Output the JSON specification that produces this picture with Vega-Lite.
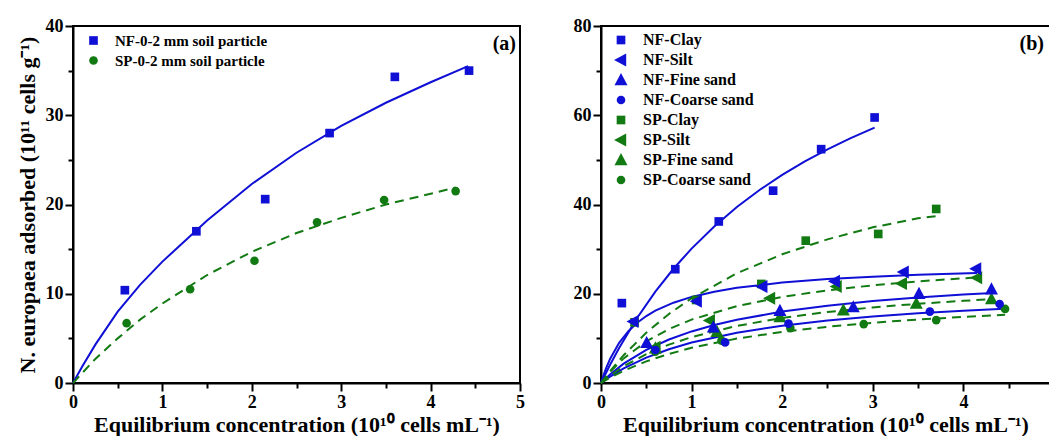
{
  "$schema": "https://vega.github.io/schema/vega-lite/v6.json",
  "background": "white",
  "padding": {"left": 15, "top": 16, "right": 0, "bottom": 0},
  "spacing": 81,
  "bounds": "flush",
  "config": {
    "view": {"stroke": "black", "strokeWidth": 2},
    "font": "Liberation Serif",
    "axis": {"domainColor": "black", "domainWidth": 2, "tickColor": "black", "tickWidth": 2, "labelFont": "Liberation Serif", "labelFontWeight": "bold", "labelFontSize": 18, "labelColor": "black", "titleFont": "Liberation Serif", "titleFontWeight": "bold", "titleFontSize": 22, "titleColor": "black", "grid": false, "labelOverlap": false, "labelFlush": false},
    "legend": {"labelFont": "Liberation Serif", "labelFontWeight": "bold", "labelFontSize": 16, "labelColor": "black", "labelLimit": 400, "symbolSize": 75, "symbolStrokeWidth": 0, "rowPadding": 4, "labelOffset": 14, "padding": 0, "symbolOpacity": 1},
    "title": {"font": "Liberation Serif", "fontWeight": "bold", "fontSize": 20, "color": "black", "anchor": "end", "frame": "group"}
  },
  "resolve": {"scale": {"color": "independent", "shape": "independent"}, "legend": {"color": "independent", "shape": "independent"}},
  "datasets": {
    "a_pts": [
      {"s": "NF-0-2 mm soil particle", "x": 0.58, "y": 10.4},
      {"s": "NF-0-2 mm soil particle", "x": 1.38, "y": 17.0},
      {"s": "NF-0-2 mm soil particle", "x": 2.15, "y": 20.6},
      {"s": "NF-0-2 mm soil particle", "x": 2.87, "y": 28.0},
      {"s": "NF-0-2 mm soil particle", "x": 3.6, "y": 34.3},
      {"s": "NF-0-2 mm soil particle", "x": 4.43, "y": 35.0},
      {"s": "SP-0-2 mm soil particle", "x": 0.6, "y": 6.7},
      {"s": "SP-0-2 mm soil particle", "x": 1.31, "y": 10.5},
      {"s": "SP-0-2 mm soil particle", "x": 2.03, "y": 13.7},
      {"s": "SP-0-2 mm soil particle", "x": 2.73, "y": 18.0},
      {"s": "SP-0-2 mm soil particle", "x": 3.48, "y": 20.5},
      {"s": "SP-0-2 mm soil particle", "x": 4.28, "y": 21.5}
    ],
    "a_fit": [
      {"s": "NF", "x": 0, "y": 0}, {"s": "NF", "x": 0.1, "y": 1.8}, {"s": "NF", "x": 0.25, "y": 4.3}, {"s": "NF", "x": 0.5, "y": 8.0}, {"s": "NF", "x": 0.75, "y": 11.0}, {"s": "NF", "x": 1.0, "y": 13.6}, {"s": "NF", "x": 1.5, "y": 18.2}, {"s": "NF", "x": 2.0, "y": 22.3}, {"s": "NF", "x": 2.5, "y": 25.8}, {"s": "NF", "x": 3.0, "y": 28.8}, {"s": "NF", "x": 3.5, "y": 31.4}, {"s": "NF", "x": 4.0, "y": 33.7}, {"s": "NF", "x": 4.42, "y": 35.5},
      {"s": "SP", "x": 0, "y": 0}, {"s": "SP", "x": 0.25, "y": 2.7}, {"s": "SP", "x": 0.5, "y": 5.0}, {"s": "SP", "x": 0.75, "y": 7.1}, {"s": "SP", "x": 1.0, "y": 8.9}, {"s": "SP", "x": 1.5, "y": 12.1}, {"s": "SP", "x": 2.0, "y": 14.7}, {"s": "SP", "x": 2.5, "y": 16.8}, {"s": "SP", "x": 3.0, "y": 18.5}, {"s": "SP", "x": 3.5, "y": 20.0}, {"s": "SP", "x": 4.0, "y": 21.2}, {"s": "SP", "x": 4.28, "y": 21.9}
    ],
    "b_pts": [
      {"s": "NF-Clay", "x": 0.23, "y": 17.9}, {"s": "NF-Clay", "x": 0.82, "y": 25.5}, {"s": "NF-Clay", "x": 1.3, "y": 36.2}, {"s": "NF-Clay", "x": 1.9, "y": 43.1}, {"s": "NF-Clay", "x": 2.43, "y": 52.4}, {"s": "NF-Clay", "x": 3.02, "y": 59.5},
      {"s": "SP-Clay", "x": 0.37, "y": 13.6}, {"s": "SP-Clay", "x": 1.05, "y": 18.6}, {"s": "SP-Clay", "x": 1.77, "y": 22.2}, {"s": "SP-Clay", "x": 2.26, "y": 31.9}, {"s": "SP-Clay", "x": 3.06, "y": 33.4}, {"s": "SP-Clay", "x": 3.7, "y": 39.0},
      {"s": "SP-Silt", "x": 0.6, "y": 8.0}, {"s": "SP-Silt", "x": 1.2, "y": 14.0}, {"s": "SP-Silt", "x": 1.865, "y": 19.0}, {"s": "SP-Silt", "x": 2.6, "y": 21.6}, {"s": "SP-Silt", "x": 3.32, "y": 22.3}, {"s": "SP-Silt", "x": 4.15, "y": 23.6},
      {"s": "SP-Fine sand", "x": 0.6, "y": 7.8}, {"s": "SP-Fine sand", "x": 1.28, "y": 11.5}, {"s": "SP-Fine sand", "x": 1.975, "y": 14.8}, {"s": "SP-Fine sand", "x": 2.675, "y": 16.3}, {"s": "SP-Fine sand", "x": 3.48, "y": 17.8}, {"s": "SP-Fine sand", "x": 4.31, "y": 18.8},
      {"s": "SP-Coarse sand", "x": 0.6, "y": 7.0}, {"s": "SP-Coarse sand", "x": 1.33, "y": 9.5}, {"s": "SP-Coarse sand", "x": 2.09, "y": 12.3}, {"s": "SP-Coarse sand", "x": 2.9, "y": 13.2}, {"s": "SP-Coarse sand", "x": 3.7, "y": 14.1}, {"s": "SP-Coarse sand", "x": 4.46, "y": 16.6},
      {"s": "NF-Silt", "x": 0.357, "y": 13.8}, {"s": "NF-Silt", "x": 1.056, "y": 18.3}, {"s": "NF-Silt", "x": 1.78, "y": 21.6}, {"s": "NF-Silt", "x": 2.58, "y": 22.8}, {"s": "NF-Silt", "x": 3.34, "y": 24.9}, {"s": "NF-Silt", "x": 4.14, "y": 25.6},
      {"s": "NF-Fine sand", "x": 0.504, "y": 9.0}, {"s": "NF-Fine sand", "x": 1.24, "y": 12.5}, {"s": "NF-Fine sand", "x": 1.975, "y": 16.2}, {"s": "NF-Fine sand", "x": 2.785, "y": 17.0}, {"s": "NF-Fine sand", "x": 3.51, "y": 20.0}, {"s": "NF-Fine sand", "x": 4.31, "y": 21.0},
      {"s": "NF-Coarse sand", "x": 0.6, "y": 7.4}, {"s": "NF-Coarse sand", "x": 1.37, "y": 9.1}, {"s": "NF-Coarse sand", "x": 2.07, "y": 13.3}, {"s": "NF-Coarse sand", "x": 3.63, "y": 16.0}, {"s": "NF-Coarse sand", "x": 4.4, "y": 17.7}
    ],
    "b_fit": [
      {"s": "NF-Clay", "x": 0, "y": 0}, {"s": "NF-Clay", "x": 0.1, "y": 4.09}, {"s": "NF-Clay", "x": 0.2, "y": 7.86}, {"s": "NF-Clay", "x": 0.4, "y": 14.61}, {"s": "NF-Clay", "x": 0.6, "y": 20.47}, {"s": "NF-Clay", "x": 0.8, "y": 25.6}, {"s": "NF-Clay", "x": 1.0, "y": 30.12}, {"s": "NF-Clay", "x": 1.25, "y": 35.09}, {"s": "NF-Clay", "x": 1.5, "y": 39.43}, {"s": "NF-Clay", "x": 1.75, "y": 43.24}, {"s": "NF-Clay", "x": 2.0, "y": 46.63}, {"s": "NF-Clay", "x": 2.25, "y": 49.65}, {"s": "NF-Clay", "x": 2.5, "y": 52.36}, {"s": "NF-Clay", "x": 2.75, "y": 54.81}, {"s": "NF-Clay", "x": 3.02, "y": 57.21},
      {"s": "NF-Silt", "x": 0, "y": 0}, {"s": "NF-Silt", "x": 0.05, "y": 3.0}, {"s": "NF-Silt", "x": 0.1, "y": 5.4}, {"s": "NF-Silt", "x": 0.2, "y": 9.0}, {"s": "NF-Silt", "x": 0.3, "y": 11.57}, {"s": "NF-Silt", "x": 0.4, "y": 13.5}, {"s": "NF-Silt", "x": 0.5, "y": 15.0}, {"s": "NF-Silt", "x": 0.6, "y": 16.2}, {"s": "NF-Silt", "x": 0.8, "y": 18.0}, {"s": "NF-Silt", "x": 1.0, "y": 19.29}, {"s": "NF-Silt", "x": 1.25, "y": 20.45}, {"s": "NF-Silt", "x": 1.5, "y": 21.32}, {"s": "NF-Silt", "x": 2.0, "y": 22.5}, {"s": "NF-Silt", "x": 2.5, "y": 23.28}, {"s": "NF-Silt", "x": 3.0, "y": 23.82}, {"s": "NF-Silt", "x": 3.5, "y": 24.23}, {"s": "NF-Silt", "x": 4.15, "y": 24.63},
      {"s": "NF-Fine sand", "x": 0, "y": 0}, {"s": "NF-Fine sand", "x": 0.1, "y": 1.93}, {"s": "NF-Fine sand", "x": 0.25, "y": 4.33}, {"s": "NF-Fine sand", "x": 0.5, "y": 7.43}, {"s": "NF-Fine sand", "x": 0.75, "y": 9.75}, {"s": "NF-Fine sand", "x": 1.0, "y": 11.56}, {"s": "NF-Fine sand", "x": 1.25, "y": 13.0}, {"s": "NF-Fine sand", "x": 1.5, "y": 14.18}, {"s": "NF-Fine sand", "x": 2.0, "y": 16.0}, {"s": "NF-Fine sand", "x": 2.5, "y": 17.33}, {"s": "NF-Fine sand", "x": 3.0, "y": 18.35}, {"s": "NF-Fine sand", "x": 3.5, "y": 19.16}, {"s": "NF-Fine sand", "x": 4.0, "y": 19.81}, {"s": "NF-Fine sand", "x": 4.33, "y": 20.18},
      {"s": "NF-Coarse sand", "x": 0, "y": 0}, {"s": "NF-Coarse sand", "x": 0.1, "y": 1.44}, {"s": "NF-Coarse sand", "x": 0.25, "y": 3.28}, {"s": "NF-Coarse sand", "x": 0.5, "y": 5.7}, {"s": "NF-Coarse sand", "x": 0.75, "y": 7.57}, {"s": "NF-Coarse sand", "x": 1.0, "y": 9.06}, {"s": "NF-Coarse sand", "x": 1.5, "y": 11.27}, {"s": "NF-Coarse sand", "x": 2.0, "y": 12.83}, {"s": "NF-Coarse sand", "x": 2.5, "y": 14.0}, {"s": "NF-Coarse sand", "x": 3.0, "y": 14.9}, {"s": "NF-Coarse sand", "x": 3.5, "y": 15.62}, {"s": "NF-Coarse sand", "x": 4.0, "y": 16.21}, {"s": "NF-Coarse sand", "x": 4.45, "y": 16.65},
      {"s": "SP-Clay", "x": 0, "y": 0}, {"s": "SP-Clay", "x": 0.1, "y": 2.66}, {"s": "SP-Clay", "x": 0.25, "y": 6.23}, {"s": "SP-Clay", "x": 0.5, "y": 11.28}, {"s": "SP-Clay", "x": 0.75, "y": 15.47}, {"s": "SP-Clay", "x": 1.0, "y": 19.0}, {"s": "SP-Clay", "x": 1.5, "y": 24.59}, {"s": "SP-Clay", "x": 2.0, "y": 28.85}, {"s": "SP-Clay", "x": 2.5, "y": 32.19}, {"s": "SP-Clay", "x": 3.0, "y": 34.88}, {"s": "SP-Clay", "x": 3.5, "y": 36.9}, {"s": "SP-Clay", "x": 3.7, "y": 37.4},
      {"s": "SP-Silt", "x": 0, "y": 0}, {"s": "SP-Silt", "x": 0.1, "y": 2.48}, {"s": "SP-Silt", "x": 0.25, "y": 5.51}, {"s": "SP-Silt", "x": 0.5, "y": 9.31}, {"s": "SP-Silt", "x": 0.75, "y": 12.09}, {"s": "SP-Silt", "x": 1.0, "y": 14.21}, {"s": "SP-Silt", "x": 1.5, "y": 17.23}, {"s": "SP-Silt", "x": 2.0, "y": 19.29}, {"s": "SP-Silt", "x": 2.5, "y": 20.77}, {"s": "SP-Silt", "x": 3.0, "y": 21.89}, {"s": "SP-Silt", "x": 3.5, "y": 22.77}, {"s": "SP-Silt", "x": 4.15, "y": 23.66},
      {"s": "SP-Fine sand", "x": 0, "y": 0}, {"s": "SP-Fine sand", "x": 0.1, "y": 1.64}, {"s": "SP-Fine sand", "x": 0.25, "y": 3.72}, {"s": "SP-Fine sand", "x": 0.5, "y": 6.48}, {"s": "SP-Fine sand", "x": 0.75, "y": 8.61}, {"s": "SP-Fine sand", "x": 1.0, "y": 10.29}, {"s": "SP-Fine sand", "x": 1.5, "y": 12.8}, {"s": "SP-Fine sand", "x": 2.0, "y": 14.58}, {"s": "SP-Fine sand", "x": 2.5, "y": 15.91}, {"s": "SP-Fine sand", "x": 3.0, "y": 16.94}, {"s": "SP-Fine sand", "x": 3.5, "y": 17.75}, {"s": "SP-Fine sand", "x": 4.0, "y": 18.42}, {"s": "SP-Fine sand", "x": 4.33, "y": 18.8},
      {"s": "SP-Coarse sand", "x": 0, "y": 0}, {"s": "SP-Coarse sand", "x": 0.1, "y": 1.19}, {"s": "SP-Coarse sand", "x": 0.25, "y": 2.74}, {"s": "SP-Coarse sand", "x": 0.5, "y": 4.85}, {"s": "SP-Coarse sand", "x": 0.75, "y": 6.52}, {"s": "SP-Coarse sand", "x": 1.0, "y": 7.88}, {"s": "SP-Coarse sand", "x": 1.5, "y": 9.95}, {"s": "SP-Coarse sand", "x": 2.0, "y": 11.45}, {"s": "SP-Coarse sand", "x": 2.5, "y": 12.6}, {"s": "SP-Coarse sand", "x": 3.0, "y": 13.5}, {"s": "SP-Coarse sand", "x": 3.5, "y": 14.23}, {"s": "SP-Coarse sand", "x": 4.0, "y": 14.82}, {"s": "SP-Coarse sand", "x": 4.46, "y": 15.29}
    ]
  },
  "hconcat": [
    {
      "width": 447,
      "height": 357,
      "title": {"text": "(a)", "dy": 41, "dx": -4},
      "layer": [
        {
          "data": {"name": "a_fit"},
          "transform": [{"filter": "datum.s === 'NF'"}],
          "mark": {"type": "line", "color": "#0f0fd6", "strokeWidth": 2},
          "encoding": {
            "x": {"field": "x", "type": "quantitative", "scale": {"domain": [0, 5], "nice": false},
              "axis": {"values": [0, 0.5, 1, 1.5, 2, 2.5, 3, 3.5, 4, 4.5, 5], "labelExpr": "datum.value % 1 === 0 ? format(datum.value, 'd') : ''", "tickSize": {"condition": {"test": "datum.value % 1 === 0", "value": 8}, "value": 5}, "labelPadding": 2, "title": "Equilibrium concentration (10¹⁰ cells mL⁻¹)", "titlePadding": 3}},
            "y": {"field": "y", "type": "quantitative", "scale": {"domain": [0, 40], "nice": false},
              "axis": {"values": [0, 5, 10, 15, 20, 25, 30, 35, 40], "labelExpr": "datum.value % 10 === 0 ? format(datum.value, 'd') : ''", "tickSize": {"condition": {"test": "datum.value % 10 === 0", "value": 8}, "value": 5}, "labelPadding": 2, "title": "N. europaea adsorbed (10¹¹ cells g⁻¹)", "titlePadding": 6}}
          }
        },
        {
          "data": {"name": "a_fit"},
          "transform": [{"filter": "datum.s === 'SP'"}],
          "mark": {"type": "line", "color": "#127a12", "strokeWidth": 2, "strokeDash": [9, 6]},
          "encoding": {"x": {"field": "x", "type": "quantitative"}, "y": {"field": "y", "type": "quantitative"}}
        },
        {
          "data": {"name": "a_pts"},
          "mark": {"type": "point", "filled": true, "opacity": 1, "size": 75},
          "encoding": {
            "x": {"field": "x", "type": "quantitative"},
            "y": {"field": "y", "type": "quantitative"},
            "color": {"field": "s", "type": "nominal", "scale": {"domain": ["NF-0-2 mm soil particle", "SP-0-2 mm soil particle"], "range": ["#0f0fd6", "#127a12"]}, "legend": {"orient": "none", "legendX": 13, "legendY": 7, "title": null, "labelFontSize": 15}},
            "shape": {"field": "s", "type": "nominal", "scale": {"domain": ["NF-0-2 mm soil particle", "SP-0-2 mm soil particle"], "range": ["square", "circle"]}, "legend": {"orient": "none", "legendX": 13, "legendY": 7, "title": null, "labelFontSize": 15}}
          }
        }
      ]
    },
    {
      "width": 449,
      "height": 357,
      "title": {"text": "(b)", "dy": 41, "dx": -6},
      "layer": [
        {
          "data": {"name": "b_fit"},
          "transform": [{"filter": "indexof(datum.s, 'NF') === 0"}],
          "mark": {"type": "line", "color": "#0f0fd6", "strokeWidth": 2},
          "encoding": {
            "detail": {"field": "s"},
            "x": {"field": "x", "type": "quantitative", "scale": {"domain": [0, 4.956], "nice": false},
              "axis": {"values": [0, 0.5, 1, 1.5, 2, 2.5, 3, 3.5, 4, 4.5], "labelExpr": "datum.value % 1 === 0 ? format(datum.value, 'd') : ''", "tickSize": {"condition": {"test": "datum.value % 1 === 0", "value": 8}, "value": 5}, "labelPadding": 2, "title": "Equilibrium concentration (10¹⁰ cells mL⁻¹)", "titlePadding": 3}},
            "y": {"field": "y", "type": "quantitative", "scale": {"domain": [0, 80], "nice": false},
              "axis": {"values": [0, 10, 20, 30, 40, 50, 60, 70, 80], "labelExpr": "datum.value % 20 === 0 ? format(datum.value, 'd') : ''", "tickSize": {"condition": {"test": "datum.value % 20 === 0", "value": 8}, "value": 5}, "labelPadding": 2, "title": null}}
          }
        },
        {
          "data": {"name": "b_fit"},
          "transform": [{"filter": "indexof(datum.s, 'SP') === 0"}],
          "mark": {"type": "line", "color": "#127a12", "strokeWidth": 2, "strokeDash": [9, 6]},
          "encoding": {"detail": {"field": "s"}, "x": {"field": "x", "type": "quantitative"}, "y": {"field": "y", "type": "quantitative"}}
        },
        {
          "data": {"name": "b_pts"},
          "mark": {"type": "point", "filled": true, "opacity": 1, "size": 75},
          "encoding": {
            "x": {"field": "x", "type": "quantitative"},
            "y": {"field": "y", "type": "quantitative"},
            "color": {"field": "s", "type": "nominal", "scale": {"domain": ["NF-Clay", "NF-Silt", "NF-Fine sand", "NF-Coarse sand", "SP-Clay", "SP-Silt", "SP-Fine sand", "SP-Coarse sand"], "range": ["#0f0fd6", "#0f0fd6", "#0f0fd6", "#0f0fd6", "#127a12", "#127a12", "#127a12", "#127a12"]}, "legend": {"orient": "none", "legendX": 12, "legendY": 6, "title": null}},
            "shape": {"field": "s", "type": "nominal", "scale": {"domain": ["NF-Clay", "NF-Silt", "NF-Fine sand", "NF-Coarse sand", "SP-Clay", "SP-Silt", "SP-Fine sand", "SP-Coarse sand"], "range": ["square", "M -1.6 0 L 1.2 -1.5 L 1.2 1.5 Z", "M 0 -1.6 L 1.5 1.2 L -1.5 1.2 Z", "circle", "square", "M -1.6 0 L 1.2 -1.5 L 1.2 1.5 Z", "M 0 -1.6 L 1.5 1.2 L -1.5 1.2 Z", "circle"]}, "legend": {"orient": "none", "legendX": 12, "legendY": 6, "title": null}}
          }
        }
      ]
    }
  ]
}
